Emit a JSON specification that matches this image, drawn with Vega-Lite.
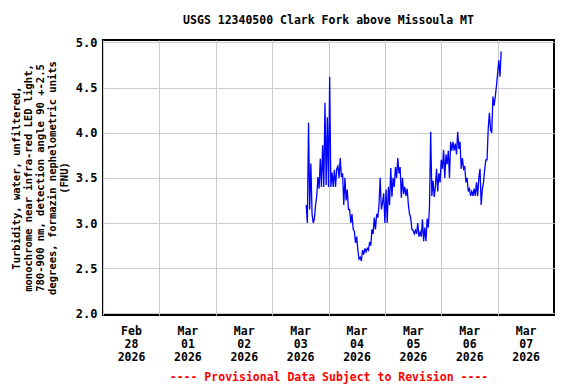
{
  "$schema": "https://vega.github.io/schema/vega-lite/v6.json",
  "width": 451,
  "height": 275,
  "autosize": {"type": "none"},
  "padding": {"left": 103, "top": 40, "right": 22, "bottom": 69},
  "background": "white",
  "config": {
    "font": "DejaVu Sans Mono",
    "view": {"stroke": "black", "strokeWidth": 2},
    "axis": {"labelFont": "DejaVu Sans Mono", "titleFont": "DejaVu Sans Mono", "labelColor": "black", "titleColor": "black"}
  },
  "title": {
    "text": "USGS 12340500 Clark Fork above Missoula MT",
    "font": "DejaVu Sans Mono",
    "fontSize": 11.5,
    "fontWeight": "bold",
    "color": "black",
    "anchor": "middle",
    "offset": 10
  },
  "data": {
    "values": [
      {"t": "2026-03-03T14:30:00Z", "v": 3.2},
      {"t": "2026-03-03T15:00:00Z", "v": 3.0},
      {"t": "2026-03-03T15:30:00Z", "v": 4.11},
      {"t": "2026-03-03T16:00:00Z", "v": 3.15},
      {"t": "2026-03-03T16:30:00Z", "v": 3.66},
      {"t": "2026-03-03T17:00:00Z", "v": 3.1},
      {"t": "2026-03-03T17:30:00Z", "v": 3.0},
      {"t": "2026-03-03T18:00:00Z", "v": 3.05},
      {"t": "2026-03-03T18:30:00Z", "v": 3.2},
      {"t": "2026-03-03T19:00:00Z", "v": 3.3},
      {"t": "2026-03-03T19:30:00Z", "v": 3.51},
      {"t": "2026-03-03T20:00:00Z", "v": 3.38},
      {"t": "2026-03-03T20:30:00Z", "v": 3.71},
      {"t": "2026-03-03T21:00:00Z", "v": 3.4},
      {"t": "2026-03-03T21:30:00Z", "v": 3.86},
      {"t": "2026-03-03T22:00:00Z", "v": 3.4},
      {"t": "2026-03-03T22:30:00Z", "v": 4.33},
      {"t": "2026-03-03T23:00:00Z", "v": 3.42},
      {"t": "2026-03-03T23:30:00Z", "v": 4.17},
      {"t": "2026-03-04T00:00:00Z", "v": 3.4},
      {"t": "2026-03-04T00:30:00Z", "v": 4.62},
      {"t": "2026-03-04T01:00:00Z", "v": 3.4},
      {"t": "2026-03-04T01:30:00Z", "v": 3.56},
      {"t": "2026-03-04T02:00:00Z", "v": 3.4},
      {"t": "2026-03-04T02:30:00Z", "v": 3.59},
      {"t": "2026-03-04T03:00:00Z", "v": 3.4},
      {"t": "2026-03-04T03:30:00Z", "v": 3.6},
      {"t": "2026-03-04T04:00:00Z", "v": 3.63},
      {"t": "2026-03-04T04:30:00Z", "v": 3.5},
      {"t": "2026-03-04T05:00:00Z", "v": 3.72},
      {"t": "2026-03-04T05:30:00Z", "v": 3.51},
      {"t": "2026-03-04T06:00:00Z", "v": 3.55},
      {"t": "2026-03-04T06:30:00Z", "v": 3.2},
      {"t": "2026-03-04T07:00:00Z", "v": 3.5},
      {"t": "2026-03-04T07:30:00Z", "v": 3.25},
      {"t": "2026-03-04T08:00:00Z", "v": 3.37},
      {"t": "2026-03-04T08:30:00Z", "v": 3.15},
      {"t": "2026-03-04T09:00:00Z", "v": 3.15},
      {"t": "2026-03-04T09:30:00Z", "v": 3.0},
      {"t": "2026-03-04T10:00:00Z", "v": 3.1},
      {"t": "2026-03-04T10:30:00Z", "v": 2.93},
      {"t": "2026-03-04T11:00:00Z", "v": 2.91},
      {"t": "2026-03-04T11:30:00Z", "v": 2.78},
      {"t": "2026-03-04T12:00:00Z", "v": 2.85},
      {"t": "2026-03-04T12:30:00Z", "v": 2.7},
      {"t": "2026-03-04T13:00:00Z", "v": 2.6},
      {"t": "2026-03-04T13:30:00Z", "v": 2.62},
      {"t": "2026-03-04T14:00:00Z", "v": 2.58},
      {"t": "2026-03-04T14:30:00Z", "v": 2.7},
      {"t": "2026-03-04T15:00:00Z", "v": 2.65},
      {"t": "2026-03-04T15:30:00Z", "v": 2.72},
      {"t": "2026-03-04T16:00:00Z", "v": 2.68},
      {"t": "2026-03-04T16:30:00Z", "v": 2.72},
      {"t": "2026-03-04T17:00:00Z", "v": 2.7},
      {"t": "2026-03-04T17:30:00Z", "v": 2.79},
      {"t": "2026-03-04T18:00:00Z", "v": 2.75},
      {"t": "2026-03-04T18:30:00Z", "v": 2.93},
      {"t": "2026-03-04T19:00:00Z", "v": 2.88},
      {"t": "2026-03-04T19:30:00Z", "v": 3.06},
      {"t": "2026-03-04T20:00:00Z", "v": 2.93},
      {"t": "2026-03-04T20:30:00Z", "v": 3.1},
      {"t": "2026-03-04T21:00:00Z", "v": 3.06},
      {"t": "2026-03-04T21:30:00Z", "v": 3.2},
      {"t": "2026-03-04T22:00:00Z", "v": 3.5},
      {"t": "2026-03-04T22:30:00Z", "v": 3.15},
      {"t": "2026-03-04T23:00:00Z", "v": 3.22},
      {"t": "2026-03-04T23:30:00Z", "v": 3.33},
      {"t": "2026-03-05T00:00:00Z", "v": 3.0},
      {"t": "2026-03-05T00:30:00Z", "v": 3.37},
      {"t": "2026-03-05T01:00:00Z", "v": 3.0},
      {"t": "2026-03-05T01:30:00Z", "v": 3.4},
      {"t": "2026-03-05T02:00:00Z", "v": 3.2},
      {"t": "2026-03-05T02:30:00Z", "v": 3.61},
      {"t": "2026-03-05T03:00:00Z", "v": 3.29},
      {"t": "2026-03-05T03:30:00Z", "v": 3.5},
      {"t": "2026-03-05T04:00:00Z", "v": 3.4},
      {"t": "2026-03-05T04:30:00Z", "v": 3.62},
      {"t": "2026-03-05T05:00:00Z", "v": 3.5},
      {"t": "2026-03-05T05:30:00Z", "v": 3.72},
      {"t": "2026-03-05T06:00:00Z", "v": 3.55},
      {"t": "2026-03-05T06:30:00Z", "v": 3.62},
      {"t": "2026-03-05T07:00:00Z", "v": 3.28},
      {"t": "2026-03-05T07:30:00Z", "v": 3.5},
      {"t": "2026-03-05T08:00:00Z", "v": 3.32},
      {"t": "2026-03-05T08:30:00Z", "v": 3.4},
      {"t": "2026-03-05T09:00:00Z", "v": 3.3},
      {"t": "2026-03-05T09:30:00Z", "v": 3.38},
      {"t": "2026-03-05T10:00:00Z", "v": 3.2},
      {"t": "2026-03-05T10:30:00Z", "v": 3.1},
      {"t": "2026-03-05T11:00:00Z", "v": 3.06},
      {"t": "2026-03-05T11:30:00Z", "v": 2.93},
      {"t": "2026-03-05T12:00:00Z", "v": 2.92},
      {"t": "2026-03-05T12:30:00Z", "v": 2.88},
      {"t": "2026-03-05T13:00:00Z", "v": 2.92},
      {"t": "2026-03-05T13:30:00Z", "v": 2.88},
      {"t": "2026-03-05T14:00:00Z", "v": 3.0},
      {"t": "2026-03-05T14:30:00Z", "v": 2.85},
      {"t": "2026-03-05T15:00:00Z", "v": 2.9},
      {"t": "2026-03-05T15:30:00Z", "v": 2.85},
      {"t": "2026-03-05T16:00:00Z", "v": 3.04},
      {"t": "2026-03-05T16:30:00Z", "v": 2.8},
      {"t": "2026-03-05T17:00:00Z", "v": 2.95},
      {"t": "2026-03-05T17:30:00Z", "v": 2.8},
      {"t": "2026-03-05T18:00:00Z", "v": 3.05},
      {"t": "2026-03-05T18:30:00Z", "v": 2.95},
      {"t": "2026-03-05T19:00:00Z", "v": 3.18},
      {"t": "2026-03-05T19:30:00Z", "v": 4.01},
      {"t": "2026-03-05T20:00:00Z", "v": 3.3},
      {"t": "2026-03-05T20:30:00Z", "v": 3.47},
      {"t": "2026-03-05T21:00:00Z", "v": 3.29},
      {"t": "2026-03-05T21:30:00Z", "v": 3.4},
      {"t": "2026-03-05T22:00:00Z", "v": 3.6},
      {"t": "2026-03-05T22:30:00Z", "v": 3.35},
      {"t": "2026-03-05T23:00:00Z", "v": 3.55},
      {"t": "2026-03-05T23:30:00Z", "v": 3.45},
      {"t": "2026-03-06T00:00:00Z", "v": 3.7},
      {"t": "2026-03-06T00:30:00Z", "v": 3.6},
      {"t": "2026-03-06T01:00:00Z", "v": 3.81},
      {"t": "2026-03-06T01:30:00Z", "v": 3.5},
      {"t": "2026-03-06T02:00:00Z", "v": 3.76},
      {"t": "2026-03-06T02:30:00Z", "v": 3.65},
      {"t": "2026-03-06T03:00:00Z", "v": 3.8},
      {"t": "2026-03-06T03:30:00Z", "v": 3.5},
      {"t": "2026-03-06T04:00:00Z", "v": 3.9},
      {"t": "2026-03-06T04:30:00Z", "v": 3.8},
      {"t": "2026-03-06T05:00:00Z", "v": 3.9},
      {"t": "2026-03-06T05:30:00Z", "v": 3.8},
      {"t": "2026-03-06T06:00:00Z", "v": 3.88},
      {"t": "2026-03-06T06:30:00Z", "v": 3.76},
      {"t": "2026-03-06T07:00:00Z", "v": 4.01},
      {"t": "2026-03-06T07:30:00Z", "v": 3.82},
      {"t": "2026-03-06T08:00:00Z", "v": 3.9},
      {"t": "2026-03-06T08:30:00Z", "v": 3.6},
      {"t": "2026-03-06T09:00:00Z", "v": 3.72},
      {"t": "2026-03-06T09:30:00Z", "v": 3.6},
      {"t": "2026-03-06T10:00:00Z", "v": 3.63},
      {"t": "2026-03-06T10:30:00Z", "v": 3.45},
      {"t": "2026-03-06T11:00:00Z", "v": 3.5},
      {"t": "2026-03-06T11:30:00Z", "v": 3.35},
      {"t": "2026-03-06T12:00:00Z", "v": 3.38},
      {"t": "2026-03-06T12:30:00Z", "v": 3.3},
      {"t": "2026-03-06T13:00:00Z", "v": 3.35},
      {"t": "2026-03-06T13:30:00Z", "v": 3.3},
      {"t": "2026-03-06T14:00:00Z", "v": 3.38},
      {"t": "2026-03-06T14:30:00Z", "v": 3.3},
      {"t": "2026-03-06T15:00:00Z", "v": 3.45},
      {"t": "2026-03-06T15:30:00Z", "v": 3.3},
      {"t": "2026-03-06T16:00:00Z", "v": 3.5},
      {"t": "2026-03-06T16:30:00Z", "v": 3.6},
      {"t": "2026-03-06T17:00:00Z", "v": 3.2},
      {"t": "2026-03-06T17:30:00Z", "v": 3.38},
      {"t": "2026-03-06T18:00:00Z", "v": 3.45},
      {"t": "2026-03-06T18:30:00Z", "v": 3.6},
      {"t": "2026-03-06T19:00:00Z", "v": 3.7},
      {"t": "2026-03-06T19:30:00Z", "v": 3.7},
      {"t": "2026-03-06T20:00:00Z", "v": 4.05},
      {"t": "2026-03-06T20:30:00Z", "v": 4.22},
      {"t": "2026-03-06T21:00:00Z", "v": 4.03},
      {"t": "2026-03-06T21:30:00Z", "v": 4.0},
      {"t": "2026-03-06T22:00:00Z", "v": 4.4},
      {"t": "2026-03-06T22:30:00Z", "v": 4.3},
      {"t": "2026-03-06T23:00:00Z", "v": 4.4},
      {"t": "2026-03-06T23:30:00Z", "v": 4.52},
      {"t": "2026-03-07T00:00:00Z", "v": 4.66},
      {"t": "2026-03-07T00:30:00Z", "v": 4.8},
      {"t": "2026-03-07T01:00:00Z", "v": 4.62},
      {"t": "2026-03-07T01:30:00Z", "v": 4.9}
    ]
  },
  "mark": {"type": "line", "color": "#0000ff", "strokeWidth": 1.3, "interpolate": "linear"},
  "encoding": {
    "x": {
      "field": "t",
      "type": "temporal",
      "scale": {"type": "utc", "domain": ["2026-02-28T00:00:00Z", "2026-03-08T00:00:00Z"], "nice": false},
      "axis": {
        "title": "---- Provisional Data Subject to Revision ----",
        "titleColor": "#ff0000",
        "titleFontSize": 11.5,
        "titleFontWeight": "bold",
        "titlePadding": 9,
        "values": [
          {"year": 2026, "month": 2, "date": 28, "utc": true},
          {"year": 2026, "month": 3, "date": 1, "utc": true},
          {"year": 2026, "month": 3, "date": 2, "utc": true},
          {"year": 2026, "month": 3, "date": 3, "utc": true},
          {"year": 2026, "month": 3, "date": 4, "utc": true},
          {"year": 2026, "month": 3, "date": 5, "utc": true},
          {"year": 2026, "month": 3, "date": 6, "utc": true},
          {"year": 2026, "month": 3, "date": 7, "utc": true}
        ],
        "labelExpr": "[utcFormat(datum.value, '%b'), utcFormat(datum.value, '%d'), utcFormat(datum.value, '%Y')]",
        "labelFontSize": 11.5,
        "labelFontWeight": "bold",
        "labelLineHeight": 13,
        "labelOffset": 28,
        "labelPadding": 10,
        "labelFlush": false,
        "labelOverlap": false,
        "labelBound": false,
        "ticks": false,
        "domain": false,
        "grid": true,
        "gridColor": "#cccccc",
        "gridWidth": 1,
        "gridOpacity": 1
      }
    },
    "y": {
      "field": "v",
      "type": "quantitative",
      "scale": {"domain": [1.982, 5.026], "nice": false, "zero": false},
      "axis": {
        "title": ["Turbidity, water, unfiltered,", "monochrome near infra-red LED light,", "780-900 nm, detection angle 90 +-2.5", "degrees, formazin nephelometric units", "(FNU)"],
        "titleFontSize": 10.5,
        "titleFontWeight": "bold",
        "titleLineHeight": 12,
        "titlePadding": 6,
        "values": [2, 2.5, 3, 3.5, 4, 4.5, 5],
        "format": ".1f",
        "labelFontSize": 12,
        "labelFontWeight": "bold",
        "labelPadding": 6,
        "ticks": false,
        "domain": false,
        "grid": true,
        "gridColor": "#cccccc",
        "gridWidth": 1,
        "gridOpacity": 1
      }
    }
  }
}
